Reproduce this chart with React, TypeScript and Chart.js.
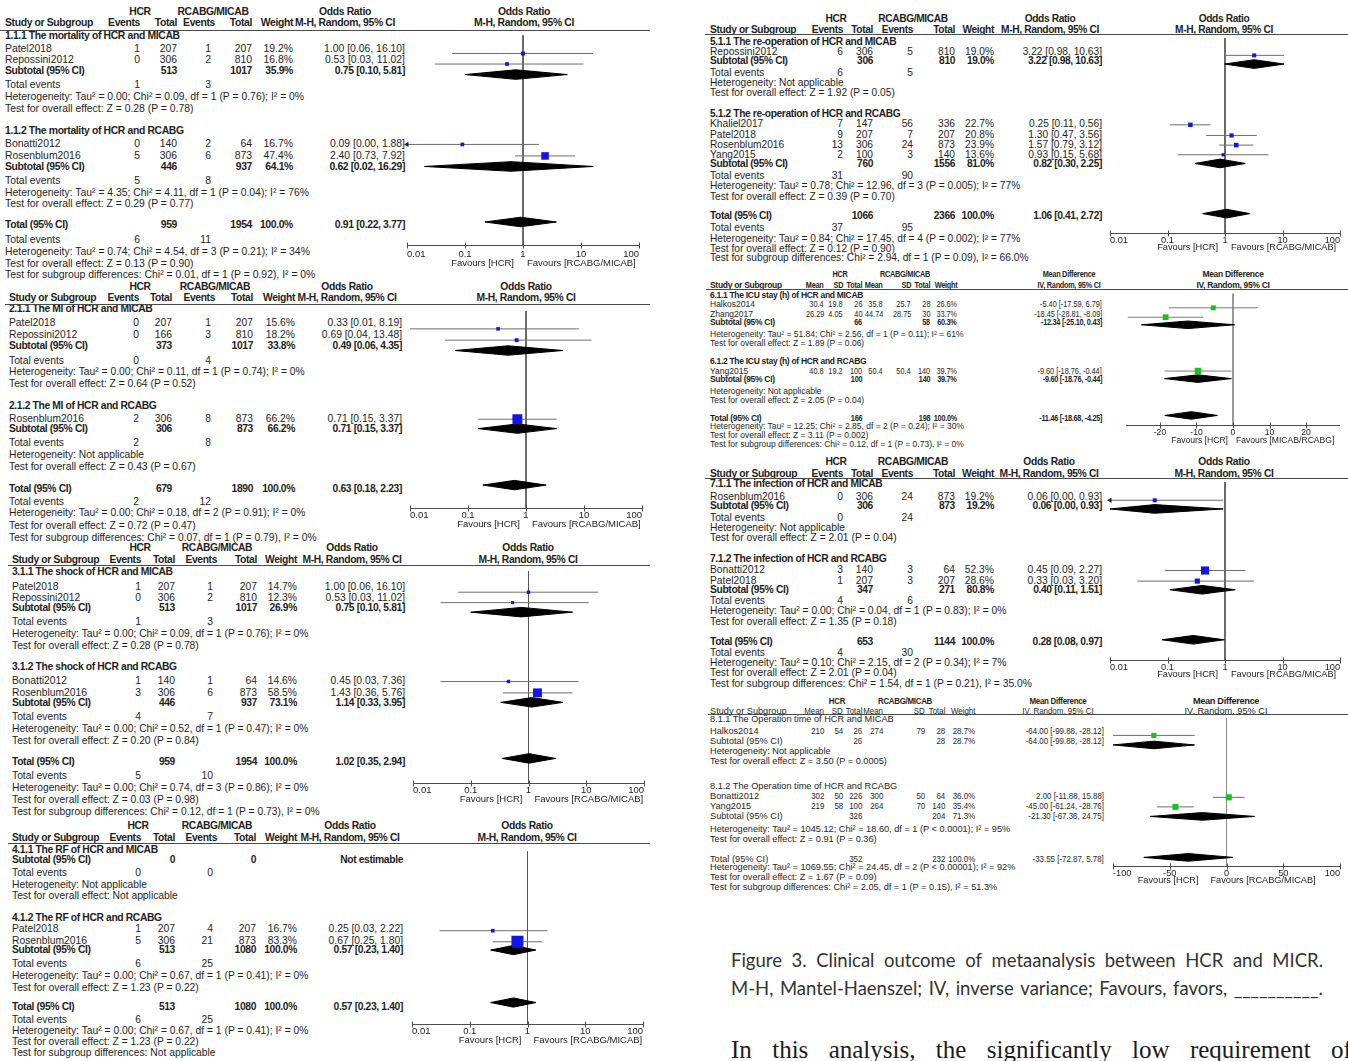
import React, { useEffect, useRef } from "react";
import { Chart, registerables } from "chart.js";
Chart.register(...registerables);

const PAGE_W = 1348;
const PAGE_H = 1061;
const FONT = '"Liberation Sans", Arial, Helvetica, sans-serif';
const BLUE = "#1414e6";
const GREEN = "#18c418";

// ---------------- axis ticks ----------------
const orTicks = [0.01, 0.1, 1, 10, 100];
const orTickLabels = ["0.01", "0.1", "1", "10", "100"];
const icuTicks = [-20, -10, 0, 10, 20];
const icuTickLabels = ["-20", "-10", "0", "10", "20"];
const opTicks = [-100, -50, 0, 50, 100];
const opTickLabels = ["-100", "-50", "0", "50", "100"];

// ---------------- Panel 1: mortality ----------------
const mortStudies = ["Patel2018", "Repossini2012", "Bonatti2012", "Rosenblum2016"];
const mortGroupOf = [0, 0, 1, 1];
const mortCounts = [[1, 207, 1, 207], [0, 306, 2, 810], [0, 140, 2, 64], [5, 306, 6, 873]];
const mortWeight = [19.2, 16.8, 16.7, 47.4];
const mortOR = [1.0, 0.53, 0.09, 2.4];
const mortLo = [0.06, 0.03, 0.0, 0.73];
const mortHi = [16.1, 11.02, 1.88, 7.92];
const mortTitles = ["1.1.1 The mortality of HCR and MICAB", "1.1.2 The mortality of HCR and RCABG"];
const mortSubN = [[513, 1017], [446, 937], [959, 1954]];
const mortSubEv = [[1, 3], [5, 8], [6, 11]];
const mortSubW = [35.9, 64.1, 100.0];
const mortSubOR = [0.75, 0.62, 0.91];
const mortSubLo = [0.1, 0.02, 0.22];
const mortSubHi = [5.81, 16.29, 3.77];
const mortHet = [
  "Heterogeneity: Tau² = 0.00; Chi² = 0.09, df = 1 (P = 0.76); I² = 0%",
  "Heterogeneity: Tau² = 4.35; Chi² = 4.11, df = 1 (P = 0.04); I² = 76%",
  "Heterogeneity: Tau² = 0.74; Chi² = 4.54, df = 3 (P = 0.21); I² = 34%",
];
const mortZ = [
  "Test for overall effect: Z = 0.28 (P = 0.78)",
  "Test for overall effect: Z = 0.29 (P = 0.77)",
  "Test for overall effect: Z = 0.13 (P = 0.90)",
];
const mortDiff = "Test for subgroup differences: Chi² = 0.01, df = 1 (P = 0.92), I² = 0%";

// ---------------- Panel 2: MI ----------------
const miStudies = ["Patel2018", "Repossini2012", "Rosenblum2016"];
const miGroupOf = [0, 0, 1];
const miCounts = [[0, 207, 1, 207], [0, 166, 3, 810], [2, 306, 8, 873]];
const miWeight = [15.6, 18.2, 66.2];
const miOR = [0.33, 0.69, 0.71];
const miLo = [0.01, 0.04, 0.15];
const miHi = [8.19, 13.48, 3.37];
const miTitles = ["2.1.1 The MI of HCR and MICAB", "2.1.2 The MI of HCR and RCABG"];
const miSubN = [[373, 1017], [306, 873], [679, 1890]];
const miSubEv = [[0, 4], [2, 8], [2, 12]];
const miSubW = [33.8, 66.2, 100.0];
const miSubOR = [0.49, 0.71, 0.63];
const miSubLo = [0.06, 0.15, 0.18];
const miSubHi = [4.35, 3.37, 2.23];
const miHet = [
  "Heterogeneity: Tau² = 0.00; Chi² = 0.11, df = 1 (P = 0.74); I² = 0%",
  "Heterogeneity: Not applicable",
  "Heterogeneity: Tau² = 0.00; Chi² = 0.18, df = 2 (P = 0.91); I² = 0%",
];
const miZ = [
  "Test for overall effect: Z = 0.64 (P = 0.52)",
  "Test for overall effect: Z = 0.43 (P = 0.67)",
  "Test for overall effect: Z = 0.72 (P = 0.47)",
];
const miDiff = "Test for subgroup differences: Chi² = 0.07, df = 1 (P = 0.79), I² = 0%";

// ---------------- Panel 3: shock ----------------
const shockStudies = ["Patel2018", "Repossini2012", "Bonatti2012", "Rosenblum2016"];
const shockGroupOf = [0, 0, 1, 1];
const shockCounts = [[1, 207, 1, 207], [0, 306, 2, 810], [1, 140, 1, 64], [3, 306, 6, 873]];
const shockWeight = [14.7, 12.3, 14.6, 58.5];
const shockOR = [1.0, 0.53, 0.45, 1.43];
const shockLo = [0.06, 0.03, 0.03, 0.36];
const shockHi = [16.1, 11.02, 7.36, 5.76];
const shockTitles = ["3.1.1 The shock of HCR and MICAB", "3.1.2 The shock of HCR and RCABG"];
const shockSubN = [[513, 1017], [446, 937], [959, 1954]];
const shockSubEv = [[1, 3], [4, 7], [5, 10]];
const shockSubW = [26.9, 73.1, 100.0];
const shockSubOR = [0.75, 1.14, 1.02];
const shockSubLo = [0.1, 0.33, 0.35];
const shockSubHi = [5.81, 3.95, 2.94];
const shockHet = [
  "Heterogeneity: Tau² = 0.00; Chi² = 0.09, df = 1 (P = 0.76); I² = 0%",
  "Heterogeneity: Tau² = 0.00; Chi² = 0.52, df = 1 (P = 0.47); I² = 0%",
  "Heterogeneity: Tau² = 0.00; Chi² = 0.74, df = 3 (P = 0.86); I² = 0%",
];
const shockZ = [
  "Test for overall effect: Z = 0.28 (P = 0.78)",
  "Test for overall effect: Z = 0.20 (P = 0.84)",
  "Test for overall effect: Z = 0.03 (P = 0.98)",
];
const shockDiff = "Test for subgroup differences: Chi² = 0.12, df = 1 (P = 0.73), I² = 0%";

// ---------------- Panel 4: RF ----------------
const rfStudies = ["Patel2018", "Rosenblum2016"];
const rfGroupOf = [1, 1];
const rfCounts = [[1, 207, 4, 207], [5, 306, 21, 873]];
const rfWeight = [16.7, 83.3];
const rfOR = [0.25, 0.67];
const rfLo = [0.03, 0.25];
const rfHi = [2.22, 1.8];
const rfTitles = ["4.1.1 The RF of HCR and MICAB", "4.1.2 The RF of HCR and RCABG"];
const rfSubN = [[0, 0], [513, 1080], [513, 1080]];
const rfSubEv = [[0, 0], [6, 25], [6, 25]];
const rfSubW = [null, 100.0, 100.0];
const rfSubOR = [null, 0.57, 0.57];
const rfSubLo = [null, 0.23, 0.23];
const rfSubHi = [null, 1.4, 1.4];
const rfHet = [
  "Heterogeneity: Not applicable",
  "Heterogeneity: Tau² = 0.00; Chi² = 0.67, df = 1 (P = 0.41); I² = 0%",
  "Heterogeneity: Tau² = 0.00; Chi² = 0.67, df = 1 (P = 0.41); I² = 0%",
];
const rfZ = [
  "Test for overall effect: Not applicable",
  "Test for overall effect: Z = 1.23 (P = 0.22)",
  "Test for overall effect: Z = 1.23 (P = 0.22)",
];
const rfDiff = "Test for subgroup differences: Not applicable";

// ---------------- Panel 5: re-operation ----------------
const reopStudies = ["Repossini2012", "Khaliel2017", "Patel2018", "Rosenblum2016", "Yang2015"];
const reopGroupOf = [0, 1, 1, 1, 1];
const reopCounts = [[6, 306, 5, 810], [7, 147, 56, 336], [9, 207, 7, 207], [13, 306, 24, 873], [2, 100, 3, 140]];
const reopWeight = [19.0, 22.7, 20.8, 23.9, 13.6];
const reopOR = [3.22, 0.25, 1.3, 1.57, 0.93];
const reopLo = [0.98, 0.11, 0.47, 0.79, 0.15];
const reopHi = [10.63, 0.56, 3.56, 3.12, 5.68];
const reopTitles = ["5.1.1 The re-operation of HCR and MICAB", "5.1.2 The re-operation of HCR and RCABG"];
const reopSubN = [[306, 810], [760, 1556], [1066, 2366]];
const reopSubEv = [[6, 5], [31, 90], [37, 95]];
const reopSubW = [19.0, 81.0, 100.0];
const reopSubOR = [3.22, 0.82, 1.06];
const reopSubLo = [0.98, 0.3, 0.41];
const reopSubHi = [10.63, 2.25, 2.72];
const reopHet = [
  "Heterogeneity: Not applicable",
  "Heterogeneity: Tau² = 0.78; Chi² = 12.96, df = 3 (P = 0.005); I² = 77%",
  "Heterogeneity: Tau² = 0.84; Chi² = 17.45, df = 4 (P = 0.002); I² = 77%",
];
const reopZ = [
  "Test for overall effect: Z = 1.92 (P = 0.05)",
  "Test for overall effect: Z = 0.39 (P = 0.70)",
  "Test for overall effect: Z = 0.12 (P = 0.90)",
];
const reopDiff = "Test for subgroup differences: Chi² = 2.94, df = 1 (P = 0.09), I² = 66.0%";

// ---------------- Panel 6: ICU stay (MD) ----------------
const icuStudies = ["Halkos2014", "Zhang2017", "Yang2015"];
const icuGroupOf = [0, 0, 1];
const icuCounts = [[30.4, 19.8, 26, 35.8, 25.7, 28], [26.29, 4.05, 40, 44.74, 28.75, 30], [40.8, 19.2, 100, 50.4, 50.4, 140]];
const icuWeight = [26.6, 33.7, 39.7];
const icuMD = [-5.4, -18.45, -9.6];
const icuLo = [-17.59, -28.81, -18.76];
const icuHi = [6.79, -8.09, -0.44];
const icuTitles = ["6.1.1 The ICU stay (h) of HCR and MICAB", "6.1.2 The ICU stay (h) of HCR and RCABG"];
const icuSubN = [[66, 58], [100, 140], [166, 198]];
const icuSubW = [60.3, 39.7, 100.0];
const icuSubMD = [-12.34, -9.6, -11.46];
const icuSubLo = [-25.1, -18.76, -18.68];
const icuSubHi = [0.43, -0.44, -4.25];
const icuHet = [
  "Heterogeneity: Tau² = 51.84; Chi² = 2.56, df = 1 (P = 0.11); I² = 61%",
  "Heterogeneity: Not applicable",
  "Heterogeneity: Tau² = 12.25; Chi² = 2.85, df = 2 (P = 0.24); I² = 30%",
];
const icuZ = [
  "Test for overall effect: Z = 1.89 (P = 0.06)",
  "Test for overall effect: Z = 2.05 (P = 0.04)",
  "Test for overall effect: Z = 3.11 (P = 0.002)",
];
const icuDiff = "Test for subgroup differences: Chi² = 0.12, df = 1 (P = 0.73), I² = 0%";

// ---------------- Panel 7: infection ----------------
const infStudies = ["Rosenblum2016", "Bonatti2012", "Patel2018"];
const infGroupOf = [0, 1, 1];
const infCounts = [[0, 306, 24, 873], [3, 140, 3, 64], [1, 207, 3, 207]];
const infWeight = [19.2, 52.3, 28.6];
const infOR = [0.06, 0.45, 0.33];
const infLo = [0.0, 0.09, 0.03];
const infHi = [0.93, 2.27, 3.2];
const infTitles = ["7.1.1 The infection of HCR and MICAB", "7.1.2 The infection of HCR and RCABG"];
const infSubN = [[306, 873], [347, 271], [653, 1144]];
const infSubEv = [[0, 24], [4, 6], [4, 30]];
const infSubW = [19.2, 80.8, 100.0];
const infSubOR = [0.06, 0.4, 0.28];
const infSubLo = [0.0, 0.11, 0.08];
const infSubHi = [0.93, 1.51, 0.97];
const infHet = [
  "Heterogeneity: Not applicable",
  "Heterogeneity: Tau² = 0.00; Chi² = 0.04, df = 1 (P = 0.83); I² = 0%",
  "Heterogeneity: Tau² = 0.10; Chi² = 2.15, df = 2 (P = 0.34); I² = 7%",
];
const infZ = [
  "Test for overall effect: Z = 2.01 (P = 0.04)",
  "Test for overall effect: Z = 1.35 (P = 0.18)",
  "Test for overall effect: Z = 2.01 (P = 0.04)",
];
const infDiff = "Test for subgroup differences: Chi² = 1.54, df = 1 (P = 0.21), I² = 35.0%";

// ---------------- Panel 8: operation time (MD) ----------------
const opStudies = ["Halkos2014", "Bonatti2012", "Yang2015"];
const opGroupOf = [0, 1, 1];
const opCounts = [[210, 54, 26, 274, 79, 28], [302, 50, 226, 300, 50, 64], [219, 58, 100, 264, 70, 140]];
const opWeight = [28.7, 36.0, 35.4];
const opMD = [-64.0, 2.0, -45.0];
const opLo = [-99.88, -11.88, -61.24];
const opHi = [-28.12, 15.88, -28.76];
const opTitles = ["8.1.1 The Operation time of HCR and MICAB", "8.1.2 The Operation time of HCR and RCABG"];
const opSubN = [[26, 28], [326, 204], [352, 232]];
const opSubW = [28.7, 71.3, 100.0];
const opSubMD = [-64.0, -21.3, -33.55];
const opSubLo = [-99.88, -67.36, -72.87];
const opSubHi = [-28.12, 24.75, 5.78];
const opHet = [
  "Heterogeneity: Not applicable",
  "Heterogeneity: Tau² = 1045.12; Chi² = 18.60, df = 1 (P < 0.0001); I² = 95%",
  "Heterogeneity: Tau² = 1069.55; Chi² = 24.45, df = 2 (P < 0.00001); I² = 92%",
];
const opZ = [
  "Test for overall effect: Z = 3.50 (P = 0.0005)",
  "Test for overall effect: Z = 0.91 (P = 0.36)",
  "Test for overall effect: Z = 1.67 (P = 0.09)",
];
const opDiff = "Test for subgroup differences: Chi² = 2.05, df = 1 (P = 0.15), I² = 51.3%";

// ---------------- caption ----------------
const captionLine1 = "Figure 3. Clinical outcome of metaanalysis between HCR and MICR.";
const captionLine2 = "M-H, Mantel-Haenszel; IV, inverse variance; Favours, favors, __________.";
const bodyLine = "In this analysis, the significantly low requirement of";

// ---------------- assemble data tables ----------------
function pack(kind, studies, groupOf, counts, weight, est, lo, hi, titles, subN, subEv, subW, subEst, subLo, subHi, het, z, diff) {
  return { kind, studies, groupOf, counts, weight, est, lo, hi, titles, subN, subEv, subW, subEst, subLo, subHi, het, z, diff };
}

const ORBASE = {
  scale: "log", min: 0.01, max: 100, ref: 1, ticks: orTicks, tickLabels: orTickLabels, edgeAlign: true,
  color: BLUE, ciColor: "#6e6e6e", refColor: "#565656", bold: true, numScale: 1, headDx: [0, 0, 0, 0],
  favL: "Favours [HCR]", favR: "Favours [RCABG/MICAB]",
};

const PANELS = [
  {
    d: pack("OR", mortStudies, mortGroupOf, mortCounts, mortWeight, mortOR, mortLo, mortHi, mortTitles, mortSubN, mortSubEv, mortSubW, mortSubOR, mortSubLo, mortSubHi, mortHet, mortZ, mortDiff),
    L: { ...ORBASE, ys: [12, 23, 36, 49, 60, 71, 85, 97, 109, 131, 144, 156, 167, 181, 193, 204, 225, 240, 252, 264, 275],
      fs: 10.4, tickFs: 9.5, studyX: 5, cols: [140, 177, 211, 252, 293, 405], headDx: [0, 0, 4, 0], hcrC: 140, ctlC: 213, tabC: 345, plotC: 524,
      lineTop: 30, lineL: 0, lineR: 650, axL: 407, axR: 639, axisY: 249, labDy: 9, favDy: 18, favGapL: 9, favGapR: 4, dh: 5 },
  },
  {
    d: pack("OR", miStudies, miGroupOf, miCounts, miWeight, miOR, miLo, miHi, miTitles, miSubN, miSubEv, miSubW, miSubOR, miSubLo, miSubHi, miHet, miZ, miDiff),
    L: { ...ORBASE, ys: [287, 298, 309, 323, 335, 346, 361, 372, 384, 406, 419, 429, 443, 455, 467, 489, 502, 513, 526, 538],
      fs: 10.3, tickFs: 9.5, studyX: 9, cols: [139, 172, 211, 253, 295, 402], headDx: [0, 0, 4, 0], hcrC: 140, ctlC: 215, tabC: 347, plotC: 526,
      lineTop: 304, lineL: 5, lineR: 650, axL: 410, axR: 642, axisY: 513, labDy: 7, favDy: 15.5, favGapL: 6, favGapR: 6, dh: 5 },
  },
  {
    d: pack("OR", shockStudies, shockGroupOf, shockCounts, shockWeight, shockOR, shockLo, shockHi, shockTitles, shockSubN, shockSubEv, shockSubW, shockSubOR, shockSubLo, shockSubHi, shockHet, shockZ, shockDiff),
    L: { ...ORBASE, ys: [548, 560, 572, 587, 598, 608, 622, 634, 646, 667, 681, 693, 703, 717, 729, 741, 762, 776, 788, 800, 812],
      fs: 10.3, tickFs: 9.5, studyX: 12, cols: [141, 175, 213, 257, 297, 405], headDx: [0, 0, 4, 0], hcrC: 140, ctlC: 217, tabC: 352, plotC: 528,
      lineTop: 565, lineL: 8, lineR: 650, axL: 413, axR: 644, axisY: 788, labDy: 7, favDy: 15.5, favGapL: 6, favGapR: 6, dh: 5 },
  },
  {
    d: pack("OR", rfStudies, rfGroupOf, rfCounts, rfWeight, rfOR, rfLo, rfHi, rfTitles, rfSubN, rfSubEv, rfSubW, rfSubOR, rfSubLo, rfSubHi, rfHet, rfZ, rfDiff),
    L: { ...ORBASE, ys: [826, 838, 850, 860, 873, 885, 896, 918, 929, 941, 950, 964, 976, 988, 1007, 1020, 1031, 1042, 1053],
      fs: 10.3, tickFs: 9.5, studyX: 12, cols: [141, 175, 213, 256, 297, 403], headDx: [0, 0, 4, 0], hcrC: 138, ctlC: 217, tabC: 350, plotC: 527,
      lineTop: 843, lineL: 8, lineR: 650, axL: 412, axR: 643, axisY: 1030, labDy: 7, favDy: 15.5, favGapL: 6, favGapR: 6, dh: 5 },
  },
  {
    d: pack("OR", reopStudies, reopGroupOf, reopCounts, reopWeight, reopOR, reopLo, reopHi, reopTitles, reopSubN, reopSubEv, reopSubW, reopSubOR, reopSubLo, reopSubHi, reopHet, reopZ, reopDiff),
    L: { ...ORBASE, ys: [19, 30, 42, 52, 61, 73, 83, 93, 114, 124, 135, 145, 155, 164, 176, 186, 197, 216, 228, 239, 249, 258],
      fs: 10.2, tickFs: 9.2, studyX: 710, cols: [843, 873, 913, 955, 994, 1102], hcrC: 836, ctlC: 913, tabC: 1050, plotC: 1224,
      lineTop: 34, lineL: 705, lineR: 1348, axL: 1110, axR: 1340, axisY: 236, labDy: 7, favDy: 14, favGapL: 7, favGapR: 6, dh: 4.5 },
  },
  {
    d: pack("MD", icuStudies, icuGroupOf, icuCounts, icuWeight, icuMD, icuLo, icuHi, icuTitles, icuSubN, null, icuSubW, icuSubMD, icuSubLo, icuSubHi, icuHet, icuZ, icuDiff),
    L: { ...ORBASE, scale: "linear", min: -29.3, max: 29.3, ref: 0, ticks: icuTicks, tickLabels: icuTickLabels, edgeAlign: false,
      color: GREEN, ciColor: "#7a7a7a", refColor: "#8a8a8a", favR: "Favours [MICAB/RCABG]", numScale: 0.86,
      ys: [274, 285, 295, 304, 314, 322, 334, 343, 361, 371, 379, 391, 400, 418, 426, 435, 444],
      fs: 8.5, tickFs: 8.6, studyX: 710, cols: [824, 843, 862, 883, 911, 930, 957, 1102], hcrC: 840, ctlC: 905, tabC: 1069, plotC: 1233,
      lineTop: 289, lineL: 706, lineR: 1348, axL: 1126, axR: 1340, axisY: 428, labDy: 7, favDy: 15, favGapL: 5, favGapR: 3, dh: 4 },
  },
  {
    d: pack("OR", infStudies, infGroupOf, infCounts, infWeight, infOR, infLo, infHi, infTitles, infSubN, infSubEv, infSubW, infSubOR, infSubLo, infSubHi, infHet, infZ, infDiff),
    L: { ...ORBASE, ys: [462, 474, 484, 497, 506, 518, 528, 538, 559, 570, 581, 590, 601, 611, 622, 642, 653, 663, 673, 684],
      fs: 10.3, tickFs: 9.2, studyX: 710, cols: [843, 873, 913, 955, 994, 1102], hcrC: 836, ctlC: 913, tabC: 1049, plotC: 1224,
      lineTop: 478, lineL: 705, lineR: 1348, axL: 1110, axR: 1340, axisY: 663, labDy: 6.5, favDy: 13.5, favGapL: 7, favGapR: 6, dh: 4.5 },
  },
  {
    d: pack("MD", opStudies, opGroupOf, opCounts, opWeight, opMD, opLo, opHi, opTitles, opSubN, null, opSubW, opSubMD, opSubLo, opSubHi, opHet, opZ, opDiff),
    L: { ...ORBASE, scale: "linear", min: -100, max: 100, ref: 0, ticks: opTicks, tickLabels: opTickLabels, edgeAlign: true,
      color: GREEN, ciColor: "#6e6e6e", refColor: "#8a8a8a", bold: false, numScale: 0.86,
      ys: [702, 712, 720, 732, 742, 752, 762, 787, 797, 807, 817, 830, 840, 860, 868, 878, 888],
      fs: 9.2, tickFs: 9.2, studyX: 710, cols: [824, 843, 862, 883, 925, 945, 975, 1104], hcrC: 837, ctlC: 905, tabC: 1058, plotC: 1226,
      lineTop: 714, lineL: 708, lineR: 1348, axL: 1113, axR: 1340, axisY: 869, labDy: 7, favDy: 14, favGapL: 28, favGapR: -16, dh: 4 },
  },
];

// ---------------- table row builder ----------------
function buildPanel(d, L) {
  const isMD = d.kind === "MD";
  const B = L.bold;
  const nc = isMD ? 6 : 4;
  const wX = L.cols[nc];
  const ciX = L.cols[nc + 1];
  const nIdx = isMD ? [2, 5] : [1, 3];
  const measure = isMD ? "Mean Difference" : "Odds Ratio";
  const method = isMD ? "IV, Random, 95% CI" : "M-H, Random, 95% CI";
  const f2 = (v) => v.toFixed(2);
  const ci = (e, l, h) => `${f2(e)} [${f2(l)}, ${f2(h)}]`;
  const rows: any[] = [];
  rows.push({
    cells: [
      { t: "HCR", x: L.hcrC, a: "c", b: true },
      { t: "RCABG/MICAB", x: L.ctlC, a: "c", b: true },
      { t: measure, x: L.tabC, a: "c", b: true },
      { t: measure, x: L.plotC, a: "c", b: true, plain: true },
    ],
  });
  const heads = isMD ? ["Mean", "SD", "Total", "Mean", "SD", "Total"] : ["Events", "Total", "Events", "Total"];
  rows.push({
    cells: [
      { t: "Study or Subgroup", x: L.studyX, a: "l", b: B },
      ...heads.map((t, k) => ({ t, x: L.cols[k] + (L.headDx[k] || 0), a: "r", b: B })),
      { t: "Weight", x: wX, a: "r", b: B },
      { t: method, x: L.tabC, a: "c", b: B },
      { t: method, x: L.plotC, a: "c", b: B, plain: true },
    ],
  });
  const summary = (g, label) => {
    const cells: any[] = [
      { t: label, x: L.studyX, a: "l", b: B },
      { t: String(d.subN[g][0]), x: L.cols[nIdx[0]], a: "r", b: B },
      { t: String(d.subN[g][1]), x: L.cols[nIdx[1]], a: "r", b: B },
    ];
    if (d.subW[g] != null) cells.push({ t: d.subW[g].toFixed(1) + "%", x: wX, a: "r", b: B });
    cells.push({
      t: d.subEst[g] != null ? ci(d.subEst[g], d.subLo[g], d.subHi[g]) : "Not estimable",
      x: ciX, a: "r", b: B,
    });
    return { cells, diamond: d.subEst[g] != null ? g : -1 };
  };
  const events = (g) => ({
    cells: [
      { t: "Total events", x: L.studyX, a: "l" },
      { t: String(d.subEv[g][0]), x: L.cols[0], a: "r" },
      { t: String(d.subEv[g][1]), x: L.cols[2], a: "r" },
    ],
  });
  const line = (t) => ({ cells: [{ t, x: L.studyX, a: "l" }] });
  const nG = d.titles.length;
  for (let g = 0; g < nG; g++) {
    rows.push({ cells: [{ t: d.titles[g], x: L.studyX, a: "l", b: B }] });
    d.studies.forEach((s, i) => {
      if (d.groupOf[i] !== g) return;
      rows.push({
        study: i,
        cells: [
          { t: s, x: L.studyX, a: "l" },
          ...d.counts[i].map((v, k) => ({ t: String(v), x: L.cols[k], a: "r" })),
          { t: d.weight[i].toFixed(1) + "%", x: wX, a: "r" },
          { t: ci(d.est[i], d.lo[i], d.hi[i]), x: ciX, a: "r" },
        ],
      });
    });
    rows.push(summary(g, "Subtotal (95% CI)"));
    if (!isMD) rows.push(events(g));
    rows.push(line(d.het[g]));
    rows.push(line(d.z[g]));
  }
  rows.push(summary(nG, "Total (95% CI)"));
  if (!isMD) rows.push(events(nG));
  rows.push(line(d.het[nG]));
  rows.push(line(d.z[nG]));
  rows.push(line(d.diff));
  rows.forEach((r, i) => {
    r.y = i < L.ys.length ? L.ys[i] : L.ys[L.ys.length - 1] + 11 * (i - L.ys.length + 1);
  });
  const studies = rows
    .filter((r) => r.study != null)
    .map((r) => ({ y: r.y - L.lineTop, est: d.est[r.study], lo: d.lo[r.study], hi: d.hi[r.study], w: d.weight[r.study] }));
  const diamonds = rows
    .filter((r) => r.diamond != null && r.diamond >= 0)
    .map((r) => ({ y: r.y - L.lineTop, est: d.subEst[r.diamond], lo: d.subLo[r.diamond], hi: d.subHi[r.diamond] }));
  return { rows, studies, diamonds };
}

// ---------------- Chart.js forest plot ----------------
const PADX = 14;

function ForestChart({ L, studies, diamonds }) {
  const ref = useRef<HTMLCanvasElement>(null);
  const left = L.axL - PADX;
  const width = L.axR - L.axL + 2 * PADX;
  const top = L.lineTop;
  const height = Math.round(L.axisY - L.lineTop + L.favDy + 12);

  useEffect(() => {
    const clamp = (v) => Math.min(Math.max(v, L.min), L.max);
    const box = (w) => 1.6 + 0.125 * w;
    const datasets: any[] = [];
    datasets.push({
      data: studies.map((s) => ({ x: s.est, y: s.y })),
      showLine: false,
      pointStyle: "rect",
      pointRadius: studies.map((s) => box(s.w) / Math.SQRT2),
      pointBackgroundColor: L.color,
      pointBorderColor: L.color,
      pointBorderWidth: 0,
      borderWidth: 0,
      clip: false,
    });
    const clipped = studies.filter((s) => s.lo < L.min);
    if (clipped.length) {
      datasets.push({
        data: clipped.map((s) => ({ x: L.min, y: s.y })),
        showLine: false,
        pointStyle: "triangle",
        pointRotation: 270,
        pointRadius: 3,
        pointBackgroundColor: "#222",
        pointBorderColor: "#222",
        pointBorderWidth: 0,
        clip: false,
      });
    }
    studies.forEach((s) => {
      datasets.push({
        data: [{ x: clamp(s.lo), y: s.y }, { x: clamp(s.hi), y: s.y }],
        borderColor: L.ciColor,
        borderWidth: 1,
        pointRadius: 0,
        fill: false,
        clip: false,
      });
    });
    diamonds.forEach((dm) => {
      datasets.push({
        data: [{ x: clamp(dm.lo), y: dm.y }, { x: dm.est, y: dm.y - L.dh }, { x: clamp(dm.hi), y: dm.y }],
        borderColor: "#000",
        backgroundColor: "#000",
        borderWidth: 1,
        pointRadius: 0,
        fill: "+1",
        clip: false,
      });
      datasets.push({
        data: [{ x: clamp(dm.lo), y: dm.y }, { x: dm.est, y: dm.y + L.dh }, { x: clamp(dm.hi), y: dm.y }],
        borderColor: "#000",
        backgroundColor: "#000",
        borderWidth: 1,
        pointRadius: 0,
        fill: false,
        clip: false,
      });
    });
    datasets.push({
      data: [{ x: L.ref, y: 0 }, { x: L.ref, y: L.axisY - L.lineTop }],
      borderColor: L.refColor,
      borderWidth: 1,
      pointRadius: 0,
      fill: false,
      clip: false,
    });

    const axisPlugin = {
      id: "forestAxis",
      afterDraw(c) {
        const ctx = c.ctx;
        const xs = c.scales.x;
        const ys = c.scales.y;
        const y0 = Math.round(ys.getPixelForValue(L.axisY - L.lineTop)) + 0.5;
        ctx.save();
        ctx.strokeStyle = "#4d4d4d";
        ctx.lineWidth = 1;
        ctx.beginPath();
        ctx.moveTo(xs.getPixelForValue(L.min), y0);
        ctx.lineTo(xs.getPixelForValue(L.max), y0);
        L.ticks.forEach((v) => {
          const px = Math.round(xs.getPixelForValue(v)) + 0.5;
          ctx.moveTo(px, y0 - 3);
          ctx.lineTo(px, y0 + 3);
        });
        ctx.stroke();
        ctx.fillStyle = "#222";
        ctx.font = `${L.tickFs}px ${FONT}`;
        ctx.textBaseline = "middle";
        L.ticks.forEach((v, i) => {
          const px = xs.getPixelForValue(v);
          let align = "center";
          if (L.edgeAlign && i === 0) align = "left";
          if (L.edgeAlign && i === L.ticks.length - 1) align = "right";
          ctx.textAlign = align;
          ctx.fillText(L.tickLabels[i], px, y0 + L.labDy);
        });
        const rx = xs.getPixelForValue(L.ref);
        ctx.textAlign = "right";
        ctx.fillText(L.favL, rx - L.favGapL, y0 + L.favDy);
        ctx.textAlign = "left";
        ctx.fillText(L.favR, rx + L.favGapR, y0 + L.favDy);
        ctx.restore();
      },
    };

    const chart = new Chart(ref.current as HTMLCanvasElement, {
      type: "line",
      data: { datasets },
      options: {
        responsive: false,
        animation: false,
        events: [],
        layout: { padding: { left: PADX, right: PADX, top: 0, bottom: 0 } },
        scales: {
          x: { type: L.scale === "log" ? "logarithmic" : "linear", min: L.min, max: L.max, display: false, bounds: "data" },
          y: { type: "linear", min: 0, max: height, reverse: true, display: false, bounds: "data" },
        },
        plugins: { legend: { display: false }, tooltip: { enabled: false } },
      } as any,
      plugins: [axisPlugin as any],
    });
    return () => chart.destroy();
  }, []);

  return (
    <canvas
      ref={ref}
      width={width}
      height={height}
      style={{ position: "absolute", left, top, width, height }}
    />
  );
}

// ---------------- text helpers ----------------
function Txt({ c, y, fs, k }) {
  const style: any = {
    position: "absolute",
    top: y - fs * 0.6,
    lineHeight: `${fs * 1.2}px`,
    fontSize: fs,
    fontWeight: c.b ? "bold" : "normal",
    letterSpacing: c.b ? `${(-0.035 * fs).toFixed(2)}px` : "normal",
    whiteSpace: "nowrap",
    color: "#1e1e1e",
  };
  const sx = c.a !== "l" && !c.plain ? k : 1;
  if (c.a === "l") style.left = c.x;
  else if (c.a === "r") {
    style.right = PAGE_W - c.x;
    if (sx !== 1) {
      style.transform = `scaleX(${sx})`;
      style.transformOrigin = "right center";
    }
  } else {
    style.left = c.x;
    style.transform = `translateX(-50%) scaleX(${sx})`;
    style.transformOrigin = "center center";
  }
  return <div style={style}>{c.t}</div>;
}

function Panel({ d, L }) {
  const { rows, studies, diamonds } = buildPanel(d, L);
  return (
    <>
      {rows.map((r, i) => r.cells.map((c, j) => <Txt key={`${i}-${j}`} c={c} y={r.y} fs={L.fs} k={L.numScale} />))}
      <div style={{ position: "absolute", left: L.lineL, width: L.lineR - L.lineL, top: L.lineTop, height: 1, background: "#4a4a4a" }} />
      <ForestChart L={L} studies={studies} diamonds={diamonds} />
    </>
  );
}

function Justified({ text, left, width, y, fs, family, color }) {
  return (
    <div
      style={{
        position: "absolute", left, width, top: y - fs * 0.6, height: fs * 1.2,
        lineHeight: `${fs * 1.2}px`, fontSize: fs, fontFamily: family, color,
        display: "flex", justifyContent: "space-between", whiteSpace: "nowrap",
      }}
    >
      {text.split(" ").map((w, i) => (
        <span key={i}>{w}</span>
      ))}
    </div>
  );
}

export default function App() {
  return (
    <div
      style={{
        position: "absolute", left: 0, top: 0, width: PAGE_W, height: PAGE_H, overflow: "hidden",
        background: "#fff", fontFamily: FONT, color: "#222",
      }}
    >
      {PANELS.map((p, i) => (
        <Panel key={i} d={p.d} L={p.L} />
      ))}
      <Justified text={captionLine1} left={731} width={592} y={960} fs={18.5} family='Lato, "Open Sans", sans-serif' color="#333" />
      <Justified text={captionLine2} left={731} width={592} y={988} fs={18.5} family='Lato, "Open Sans", sans-serif' color="#333" />
      <Justified text={bodyLine} left={731} width={621} y={1050} fs={25} family='"Liberation Serif", "Times New Roman", serif' color="#1a1a1a" />
    </div>
  );
}
